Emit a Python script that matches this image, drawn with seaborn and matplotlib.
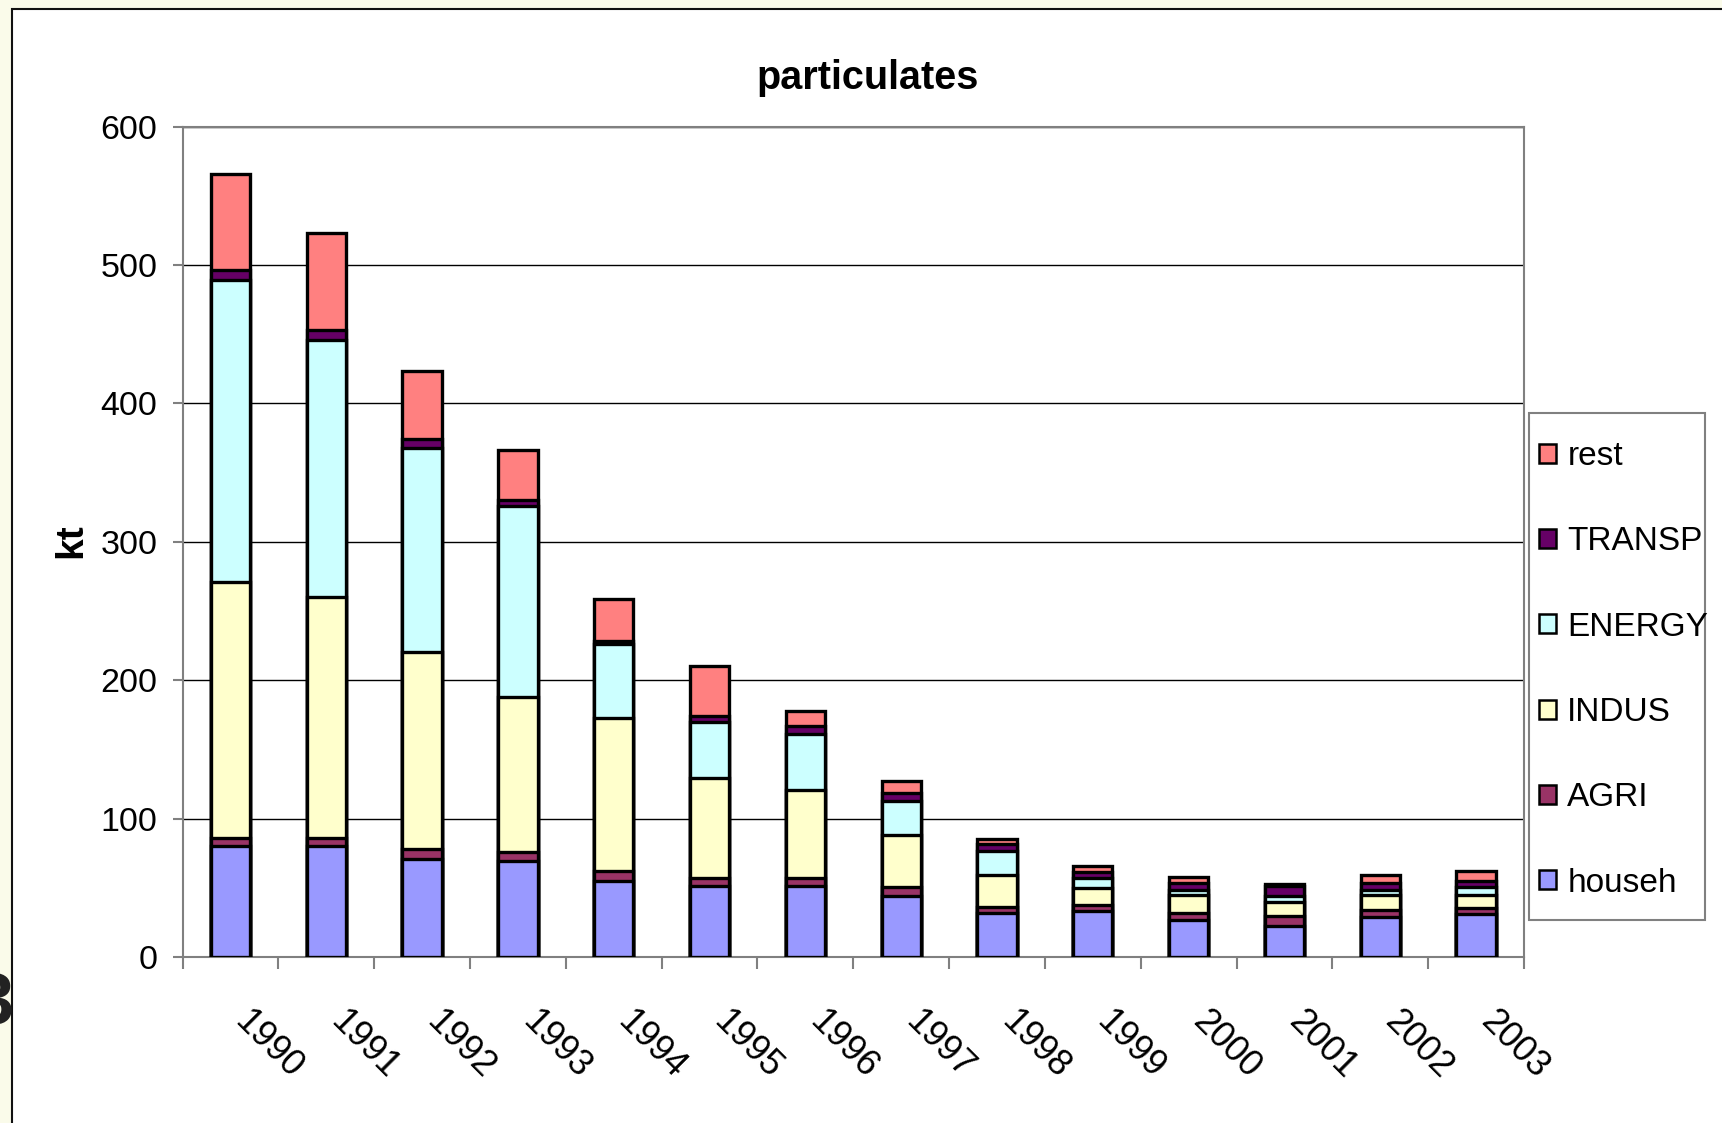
import numpy as np
import pandas as pd
import matplotlib
matplotlib.use("Agg")
import matplotlib.pyplot as plt
import matplotlib.transforms as mtransforms
from matplotlib.patches import Patch, Rectangle
import seaborn as sns

# Particulate emissions by sector (kt)
years = ["1990", "1991", "1992", "1993", "1994", "1995", "1996",
         "1997", "1998", "1999", "2000", "2001", "2002", "2003"]
househ = [80, 80, 71, 69, 55, 51, 51, 44, 32, 33, 27, 22.5, 29, 31]
agri = [6, 6, 7, 7, 7, 6, 6, 6.5, 4, 4.5, 4.5, 7, 5, 4.5]
indus = [185, 174, 142, 112, 111, 72, 64, 38, 23.5, 12.5, 13, 10.5, 10.5, 9]
energy = [218, 186, 148, 138, 53, 41, 40, 24, 17, 7, 4, 4, 4, 6]
transp = [7, 7, 6, 4, 2, 4, 6, 6, 5, 4.5, 5, 7, 5, 4.5]
rest = [70, 70, 49, 36, 31, 36, 11, 8.5, 4, 4, 4, 2, 6, 7]

sectors = ["househ", "AGRI", "INDUS", "ENERGY", "TRANSP", "rest"]
colors = ["#9999FF", "#993366", "#FFFFCC", "#CCFFFF", "#660066", "#FF8080"]
y_ticks = [0, 100, 200, 300, 400, 500, 600]

sns.set_style("white")
plt.rcParams["font.family"] = ["Liberation Sans", "DejaVu Sans"]
plt.rcParams["text.color"] = "black"
plt.rcParams["xtick.labelcolor"] = "black"
plt.rcParams["ytick.labelcolor"] = "black"

W, H = 1722, 1123
fig = plt.figure(figsize=(W / 100, H / 100), dpi=100, facecolor="#FAFBEA")

# white chart panel
fig.patches.append(Rectangle((12 / W, -0.02), 1.1, 1.02 - 8.5 / H,
                             transform=fig.transFigure, facecolor="white",
                             edgecolor="#111111", lw=1.5, zorder=-2))

# clipped glyph at the left margin
fig.text(13 / W, 1 - 1004 / H, "3", ha="right", va="center",
         fontsize=52, fontweight="bold", color="#222222")

ax = fig.add_axes([182.5 / W, 1 - 957 / H, (1524 - 182.5) / W, (957 - 126.5) / H])
ax.set_facecolor("white")

df = pd.DataFrame({"year": years, "househ": househ, "AGRI": agri,
                   "INDUS": indus, "ENERGY": energy, "TRANSP": transp,
                   "rest": rest})
cum = df[sectors].cumsum(axis=1)

# stacked bars: draw cumulative totals from the top layer down
for s, c in reversed(list(zip(sectors, colors))):
    sns.barplot(x=df["year"], y=cum[s], color=c, saturation=1, width=0.41,
                edgecolor="black", linewidth=2.4, ax=ax, zorder=3)

ax.set_xlim(-0.5, 13.5)
ax.set_ylim(0, 600)
ax.set_xlabel("")
ax.set_ylabel("")

ax.set_yticks(y_ticks)
ax.set_yticklabels([str(v) for v in y_ticks])
ax.yaxis.grid(True, color="black", lw=1)
ax.xaxis.grid(False)
ax.set_axisbelow(True)
ax.tick_params(axis="y", length=7.2, width=1.5, color="#808080", pad=11,
               labelsize=24.5, labelcolor="black", direction="out", left=True)

# tick marks between categories, labels at category centers
ax.set_xticks(np.arange(-0.5, 14, 1))
ax.set_xticklabels([])
ax.set_xticks(np.arange(14), minor=True)
ax.set_xticklabels(years, minor=True, rotation=-45, ha="left", va="top",
                   rotation_mode="anchor", fontsize=26, color="black")
ax.tick_params(axis="x", which="major", length=8.6, width=1.5,
               color="#808080", direction="out", bottom=True)
ax.tick_params(axis="x", which="minor", length=0, pad=34, bottom=True)
for lab in ax.get_xticklabels(minor=True):
    lab.set_transform(lab.get_transform() +
                      mtransforms.ScaledTranslation(0.22, 0, fig.dpi_scale_trans))

for sp in ax.spines.values():
    sp.set_color("#808080")
    sp.set_linewidth(1.5)
    sp.set_visible(True)

fig.text(868 / W, 1 - 78 / H, "particulates", ha="center", va="center",
         fontsize=28.5, fontweight="bold")
fig.text(71 / W, 1 - 541 / H, "kt", rotation=90, ha="center", va="center",
         fontsize=28, fontweight="bold")

# legend
handles = [Patch(facecolor=c, edgecolor="black", lw=1.8, label=s)
           for s, c in reversed(list(zip(sectors, colors)))]
fig.patches.append(Rectangle((1529 / W, 1 - 920 / H), 176 / W, 507 / H,
                             transform=fig.transFigure, facecolor="white",
                             edgecolor="#808080", lw=1.5, zorder=1))
leg = fig.legend(handles=handles, loc="upper left",
                 bbox_to_anchor=(1529 / W, 1 - 431 / H), fontsize=24,
                 frameon=False, handlelength=0.5, handleheight=0.5,
                 handletextpad=0.35, labelspacing=1.63, borderpad=0.3,
                 borderaxespad=0)
for t in leg.get_texts():
    t.set_color("black")

fig.savefig("out.png", dpi=100, facecolor=fig.get_facecolor())
